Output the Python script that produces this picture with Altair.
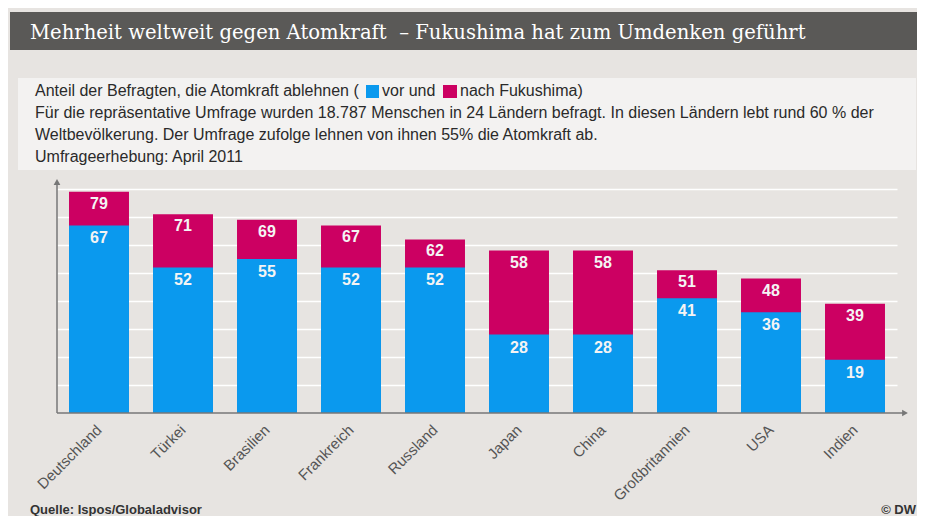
import altair as alt
import pandas as pd

countries = ["Deutschland", "Türkei", "Brasilien", "Frankreich", "Russland",
             "Japan", "China", "Großbritannien", "USA", "Indien"]
before = [67, 52, 55, 52, 52, 28, 28, 41, 36, 19]
after = [79, 71, 69, 67, 62, 58, 58, 51, 48, 39]

title_text = "Mehrheit weltweit gegen Atomkraft \u00a0– Fukushima hat zum Umdenken geführt"
line1a = "Anteil der Befragten, die Atomkraft ablehnen ("
line1b = "vor und"
line1c = "nach Fukushima)"
line2 = "Für die repräsentative Umfrage wurden 18.787 Menschen in 24 Ländern befragt. In diesen Ländern lebt rund 60 % der"
line3 = "Weltbevölkerung. Der Umfrage zufolge lehnen von ihnen 55% die Atomkraft ab."
line4 = "Umfrageerhebung: April 2011"
source = "Quelle: Ispos/Globaladvisor"
credit = "© DW"

BLUE = "#0a99ee"
MAGENTA = "#cc0062"
BG = "#e7e4e1"
BOX = "#f3f2f1"
BAR = "#5a5957"
AXIS = "#777777"

df = pd.DataFrame({"country": countries, "before": before, "after": after})
dummy = alt.Data(values=[{"a": 1}])

xenc = alt.X("country:N", sort=countries,
             scale=alt.Scale(paddingInner=0.286, paddingOuter=0.143),
             axis=alt.Axis(title=None, labelAngle=-45, labelAlign="right",
                           labelBaseline="middle", labelPadding=14,
                           labelFont="Liberation Sans", labelFontSize=15,
                           labelColor="#555555", domain=False, ticks=False))
yscale = alt.Scale(domain=[0, 80])
yaxis = alt.Axis(title=None, values=[10, 20, 30, 40, 50, 60, 70, 80], grid=True,
                 gridColor="white", gridWidth=1.3, labels=False, ticks=False,
                 domain=False)


def rect(x, x2, y, y2, color):
    return alt.Chart(dummy).mark_rect(color=color).encode(
        x=alt.value(x), x2=alt.value(x2), y=alt.value(y), y2=alt.value(y2))


def text(t, x, y, size=16, color="#2a2a2a", font="Liberation Sans",
         weight="normal", align="left", baseline="middle"):
    return alt.Chart(dummy).mark_text(
        text=t, font=font, fontSize=size, color=color, fontWeight=weight,
        align=align, baseline=baseline).encode(x=alt.value(x), y=alt.value(y))


def rule(x, x2, y, y2):
    return alt.Chart(dummy).mark_rule(color=AXIS, strokeWidth=1.5).encode(
        x=alt.value(x), x2=alt.value(x2), y=alt.value(y), y2=alt.value(y2))


def arrow(x, y, shape):
    return alt.Chart(dummy).mark_point(shape=shape, filled=True, color=AXIS,
                                       size=45, opacity=1).encode(
        x=alt.value(x), y=alt.value(y))


deco = [
    rect(-47, 860, -177, -139, BAR),
    text(title_text, -27, -150, size=19.6, color="white", font="DejaVu Serif",
         baseline="alphabetic"),
    rect(-39, 859, -111, -19, BOX),
    text(line1a, -22, -98),
    rect(309, 322, -104, -91, BLUE),
    text(line1b, 325, -98),
    rect(386, 400, -104, -91, MAGENTA),
    text(line1c, 403, -98),
    text(line2, -22, -76),
    text(line3, -22, -54),
    text(line4, -22, -32),
]

bars_after = alt.Chart(df).mark_bar(color=MAGENTA).encode(
    x=xenc, y=alt.Y("after:Q", scale=yscale, axis=yaxis))
bars_before = alt.Chart(df).mark_bar(color=BLUE).encode(
    x=xenc, y=alt.Y("before:Q", scale=yscale, axis=yaxis))
lab_after = alt.Chart(df).mark_text(
    baseline="middle", dy=12, font="Liberation Sans", fontSize=16,
    fontWeight="bold", color="#f4f4f4").encode(
    x=xenc, y=alt.Y("after:Q", scale=yscale, axis=yaxis), text="after:Q")
lab_before = alt.Chart(df).mark_text(
    baseline="middle", dy=13, font="Liberation Sans", fontSize=16,
    fontWeight="bold", color="#f4f4f4").encode(
    x=xenc, y=alt.Y("before:Q", scale=yscale, axis=yaxis), text="before:Q")

axes = [
    rule(0, 0, 224, -6),
    arrow(0, -7, "triangle-up"),
    rule(0, 846, 224, 224),
    arrow(848, 224, "triangle-right"),
    text(source, -27, 321, size=13, color="#333333", weight="bold"),
    text(credit, 859, 321, size=13, color="#333333", weight="bold", align="right"),
]

chart = alt.layer(*deco, bars_after, bars_before, lab_after, lab_before, *axes).properties(
    width=840, height=224,
    autosize=alt.AutoSizeParams(type="none"),
    padding={"left": 49, "top": 181, "right": 20, "bottom": 103},
    background=BG,
).configure_view(stroke=None)

chart.save("out.html", embed_options={"renderer": "svg", "actions": False})
